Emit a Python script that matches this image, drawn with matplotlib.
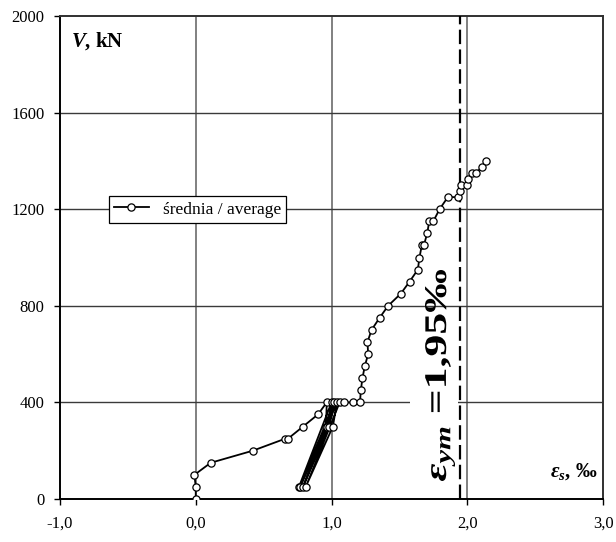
import matplotlib

matplotlib.use("Agg")

import matplotlib.pyplot as plt
import matplotlib.transforms as mtransforms
from matplotlib.font_manager import FontProperties
from matplotlib.patches import PathPatch, Rectangle
from matplotlib.textpath import TextPath

# strain [permille] and shear force [kN], average curve (incl. unload/reload cycles at 400 kN)
strain = [
    0.00, 0.00, -0.01, 0.11, 0.42, 0.66, 0.68, 0.79, 0.90, 0.965,
    0.96, 0.76, 1.00, 0.97, 0.77, 1.02, 0.98, 0.79, 1.04, 1.01, 0.81,
    1.06, 1.09, 1.16, 1.21,
    1.216, 1.228, 1.245, 1.27, 1.265, 1.295, 1.354, 1.417, 1.51, 1.575,
    1.636, 1.648, 1.665, 1.68, 1.705, 1.72, 1.75, 1.796, 1.857, 1.933,
    1.943, 1.955, 1.997, 2.007, 2.034, 2.063, 2.11, 2.14,
]
shear = [
    0, 50, 100, 150, 200, 250, 250, 300, 350, 400,
    300, 50, 400, 300, 50, 400, 300, 50, 400, 300, 50,
    400, 400, 400, 400,
    450, 500, 550, 600, 650, 700, 750, 800, 850, 900,
    950, 1000, 1050, 1050, 1100, 1150, 1150, 1200, 1250, 1250,
    1275, 1300, 1300, 1325, 1350, 1350, 1375, 1400,
]

eps_ym = 1.95
x_ticks = [-1.0, 0.0, 1.0, 2.0, 3.0]
x_labels = ["-1,0", "0,0", "1,0", "2,0", "3,0"]
y_ticks = [0, 400, 800, 1200, 1600, 2000]

plt.rcParams["font.family"] = ["Liberation Serif", "DejaVu Serif"]
plt.rcParams["mathtext.fontset"] = "custom"
plt.rcParams["mathtext.it"] = "Liberation Serif:italic:bold"
plt.rcParams["mathtext.rm"] = "Liberation Serif:bold"
plt.rcParams["mathtext.bf"] = "Liberation Serif:bold"

fig = plt.figure(figsize=(6.16, 5.42), dpi=100)
ax = fig.add_axes([0.0974, 0.0793, 0.8815, 0.8912])

ax.set_xlim(-1.0, 3.0)
ax.set_ylim(0, 2000)
ax.set_xticks(x_ticks)
ax.set_xticklabels(x_labels)
ax.set_yticks(y_ticks)
ax.set_yticklabels([str(v) for v in y_ticks])
ax.tick_params(direction="out", length=4, width=1, labelsize=12, colors="black")
ax.tick_params(axis="x", pad=8)
ax.tick_params(axis="y", pad=7)

for x in x_ticks[1:-1]:
    ax.axvline(x, color="#808080", lw=1.4, zorder=1)
for y in y_ticks[1:-1]:
    ax.axhline(y, color="#3a3a3a", lw=1.0, zorder=1)

for side in ("left", "bottom"):
    ax.spines[side].set_linewidth(1.4)
    ax.spines[side].set_color("black")
for side in ("top", "right"):
    ax.spines[side].set_linewidth(1.4)
    ax.spines[side].set_color("#303030")

ax.plot(
    strain,
    shear,
    color="black",
    lw=1.3,
    marker="o",
    markersize=5.2,
    markerfacecolor="white",
    markeredgecolor="black",
    markeredgewidth=0.9,
    label="średnia / average",
    zorder=4,
)

ax.axvline(eps_ym, color="black", lw=1.6, dashes=(6.5, 2.4), zorder=3)

# white label background hiding the 400 kN grid line behind the annotation
ax.add_patch(Rectangle((1.58, 300), 0.35, 200, facecolor="white", edgecolor="none", zorder=2))

# stretched, rotated annotation (text drawn as a path so it can be scaled like the original)
tp = TextPath((0, 0), r"$\varepsilon_{ym}$ =1,95‰", size=20,
              prop=FontProperties(family="Liberation Serif", weight="bold"))
ext = tp.get_extents()
fig_h = fig.get_figheight() * fig.dpi
box_left, box_right, box_top, box_bottom = 425, 455, 270, 481  # pixels from top-left
sx = (box_bottom - box_top) / ext.width
sy = (box_right - box_left) / ext.height
trans = (
    mtransforms.Affine2D()
    .translate(-ext.x0, -ext.y0)
    .scale(sx, sy)
    .rotate_deg(90)
    .translate(box_right, fig_h - box_bottom)
)
ax.add_patch(PathPatch(tp, transform=trans, facecolor="black", edgecolor="none", zorder=3))

ax.text(0.02, 0.97, r"$V$, kN", transform=ax.transAxes, ha="left", va="top",
        fontsize=15, fontweight="bold")
ax.text(0.99, 0.035, r"$\varepsilon_s$, ‰", transform=ax.transAxes, ha="right",
        va="bottom", fontsize=15, fontweight="bold")

leg = ax.legend(
    loc="upper left",
    bbox_to_anchor=(0.09, 0.627),
    fontsize=12.5,
    frameon=True,
    fancybox=False,
    framealpha=1,
    edgecolor="black",
    handlelength=2.0,
    borderpad=0.3,
    borderaxespad=0,
)
leg.get_frame().set_linewidth(0.9)
leg.set_zorder(5)

fig.savefig("out.png", dpi=100)
plt.close(fig)
